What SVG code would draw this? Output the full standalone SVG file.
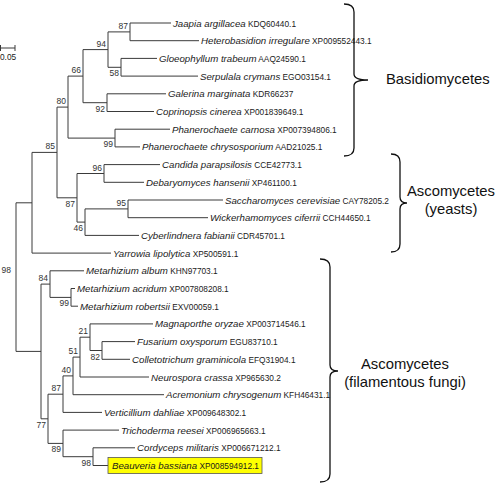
<svg xmlns="http://www.w3.org/2000/svg" width="495" height="484" viewBox="0 0 495 484">
<style>
.sp{font-family:"Liberation Sans",Arial,sans-serif;font-size:9.7px;font-style:italic;fill:#1a1a1a}
.ac{font-family:"Liberation Sans",Arial,sans-serif;font-size:8.3px;font-style:normal;fill:#1a1a1a}
.bs{font-family:"Liberation Sans",Arial,sans-serif;font-size:8.5px;fill:#333;text-anchor:end}
.gl{font-family:"Liberation Sans",Arial,sans-serif;font-size:14.8px;fill:#111}
.br{fill:none;stroke:#3a3a3a;stroke-width:1}
.bc{fill:none;stroke:#111;stroke-width:1.3}
</style>
<rect width="495" height="484" fill="#fff"/>
<g id="scale">
<path class="br" d="M0.5,48 H15 M0.5,45 V51 M15,45 V51"/>
<text class="ac" x="0" y="60">0.05</text>
</g>
<g id="connectors">
<path class="br" d="M32,202.8 H16 V351.4 H41"/>
<path class="br" d="M57,152.4 H32 V253.1 H111"/>
<path class="br" d="M68,107.1 H57 V197.8 H77"/>
<path class="br" d="M83,76.1 H68 V138.1 H115"/>
<path class="br" d="M108,49.6 H83 V102.7 H107"/>
<path class="br" d="M130,31.9 H108 V67.3 H121"/>
<path class="br" d="M171,23 H130 V40.7 H199"/>
<path class="br" d="M157,58.4 H121 V76.1 H198"/>
<path class="br" d="M166,93.8 H107 V111.5 H154"/>
<path class="br" d="M170,129.2 H115 V146.9 H140"/>
<path class="br" d="M104,173.5 H77 V222.1 H85"/>
<path class="br" d="M160,164.6 H104 V182.3 H144"/>
<path class="br" d="M128,208.9 H85 V235.4 H139"/>
<path class="br" d="M223,200 H128 V217.7 H208"/>
<path class="br" d="M50,284.1 H41 V418.8 H48"/>
<path class="br" d="M84,270.8 H50 V297.4 H71"/>
<path class="br" d="M75,288.5 H71 V306.2 H78"/>
<path class="br" d="M63,394.2 H48 V443.4 H63"/>
<path class="br" d="M73,375.9 H63 V412.4 H102"/>
<path class="br" d="M80,357.1 H73 V394.7 H164"/>
<path class="br" d="M90,337.2 H80 V377 H149"/>
<path class="br" d="M153,323.9 H90 V350.5 H102"/>
<path class="br" d="M135,341.6 H102 V359.3 H130"/>
<path class="br" d="M119,430.1 H63 V456.7 H93"/>
<path class="br" d="M135,447.8 H93 V465.5 H108"/>
</g>
<g id="n-root"><text class="bs" x="11" y="273">98</text></g>
<g id="n87a"><text class="bs" x="128" y="29">87</text></g>
<g id="n94"><text class="bs" x="106" y="46.6">94</text></g>
<g id="n58"><text class="bs" x="119" y="76.3">58</text></g>
<g id="n66"><text class="bs" x="81" y="73">66</text></g>
<g id="n92"><text class="bs" x="105" y="111.7">92</text></g>
<g id="n80"><text class="bs" x="66" y="104">80</text></g>
<g id="n99a"><text class="bs" x="113" y="147">99</text></g>
<g id="n85"><text class="bs" x="55" y="149.4">85</text></g>
<g id="n96"><text class="bs" x="102" y="170.5">96</text></g>
<g id="n87b"><text class="bs" x="75" y="206.8">87</text></g>
<g id="n95"><text class="bs" x="126" y="205.9">95</text></g>
<g id="n46"><text class="bs" x="83" y="231">46</text></g>
<g id="n84"><text class="bs" x="48" y="281">84</text></g>
<g id="n99b"><text class="bs" x="69" y="306.4">99</text></g>
<g id="n21"><text class="bs" x="88" y="334">21</text></g>
<g id="n82"><text class="bs" x="100" y="359.5">82</text></g>
<g id="n51"><text class="bs" x="78" y="354">51</text></g>
<g id="n40"><text class="bs" x="71" y="373">40</text></g>
<g id="n87c"><text class="bs" x="61" y="391">87</text></g>
<g id="n77"><text class="bs" x="46" y="428">77</text></g>
<g id="n89"><text class="bs" x="61" y="452.4">89</text></g>
<g id="n98"><text class="bs" x="91" y="465.7">98</text></g>
<g id="leaf-jaapia"><text x="173" y="26.5"><tspan class="sp">Jaapia argillacea</tspan><tspan class="ac"> KDQ60440.1</tspan></text></g>
<g id="leaf-heterobasidion"><text x="201" y="44.2"><tspan class="sp">Heterobasidion irregulare</tspan><tspan class="ac"> XP009552443.1</tspan></text></g>
<g id="leaf-gloeophyllum"><text x="159" y="61.9"><tspan class="sp">Gloeophyllum trabeum</tspan><tspan class="ac"> AAQ24590.1</tspan></text></g>
<g id="leaf-serpulala"><text x="200" y="79.6"><tspan class="sp">Serpulala crymans</tspan><tspan class="ac"> EGO03154.1</tspan></text></g>
<g id="leaf-galerina"><text x="168" y="97.3"><tspan class="sp">Galerina marginata</tspan><tspan class="ac"> KDR66237</tspan></text></g>
<g id="leaf-coprinopsis"><text x="156" y="115"><tspan class="sp">Coprinopsis cinerea</tspan><tspan class="ac">  XP001839649.1</tspan></text></g>
<g id="leaf-pcarnosa"><text x="172" y="132.7"><tspan class="sp">Phanerochaete carnosa</tspan><tspan class="ac"> XP007394806.1</tspan></text></g>
<g id="leaf-pchrysosporium"><text x="142" y="150.4"><tspan class="sp">Phanerochaete chrysosporium</tspan><tspan class="ac"> AAD21025.1</tspan></text></g>
<g id="leaf-candida"><text x="162" y="168.1"><tspan class="sp">Candida parapsilosis</tspan><tspan class="ac"> CCE42773.1</tspan></text></g>
<g id="leaf-debaryomyces"><text x="146" y="185.8"><tspan class="sp">Debaryomyces hansenii</tspan><tspan class="ac"> XP461100.1</tspan></text></g>
<g id="leaf-saccharomyces"><text x="225" y="203.5"><tspan class="sp">Saccharomyces cerevisiae</tspan><tspan class="ac"> CAY78205.2</tspan></text></g>
<g id="leaf-wickerhamomyces"><text x="210" y="221.2"><tspan class="sp">Wickerhamomyces ciferrii</tspan><tspan class="ac"> CCH44650.1</tspan></text></g>
<g id="leaf-cyberlindnera"><text x="141" y="238.9"><tspan class="sp">Cyberlindnera fabianii</tspan><tspan class="ac"> CDR45701.1</tspan></text></g>
<g id="leaf-yarrowia"><text x="113" y="256.6"><tspan class="sp">Yarrowia lipolytica</tspan><tspan class="ac"> XP500591.1</tspan></text></g>
<g id="leaf-malbum"><text x="86" y="274.3"><tspan class="sp">Metarhizium album</tspan><tspan class="ac"> KHN97703.1</tspan></text></g>
<g id="leaf-macridum"><text x="77" y="292"><tspan class="sp">Metarhizium acridum</tspan><tspan class="ac"> XP007808208.1</tspan></text></g>
<g id="leaf-mrobertsii"><text x="80" y="309.7"><tspan class="sp">Metarhizium robertsii</tspan><tspan class="ac"> EXV00059.1</tspan></text></g>
<g id="leaf-magnaporthe"><text x="155" y="327.4"><tspan class="sp">Magnaporthe oryzae</tspan><tspan class="ac"> XP003714546.1</tspan></text></g>
<g id="leaf-fusarium"><text x="137" y="345.1"><tspan class="sp">Fusarium oxysporum</tspan><tspan class="ac"> EGU83710.1</tspan></text></g>
<g id="leaf-colletotrichum"><text x="132" y="362.8"><tspan class="sp">Colletotrichum graminicola</tspan><tspan class="ac"> EFQ31904.1</tspan></text></g>
<g id="leaf-neurospora"><text x="151" y="380.5"><tspan class="sp">Neurospora crassa</tspan><tspan class="ac"> XP965630.2</tspan></text></g>
<g id="leaf-acremonium"><text x="166" y="398.2"><tspan class="sp">Acremonium chrysogenum</tspan><tspan class="ac"> KFH46431.1</tspan></text></g>
<g id="leaf-verticillium"><text x="104" y="415.9"><tspan class="sp">Verticillium dahliae</tspan><tspan class="ac"> XP009648302.1</tspan></text></g>
<g id="leaf-trichoderma"><text x="121" y="433.6"><tspan class="sp">Trichoderma reesei</tspan><tspan class="ac"> XP006965663.1</tspan></text></g>
<g id="leaf-cordyceps"><text x="137" y="451.3"><tspan class="sp">Cordyceps militaris</tspan><tspan class="ac"> XP006671212.1</tspan></text></g>
<g id="leaf-beauveria"><rect x="108" y="457.5" width="154" height="16" fill="#ffff00" stroke="#555" stroke-width="0.8"/><text x="112" y="469"><tspan class="sp">Beauveria bassiana</tspan><tspan class="ac"> XP008594912.1</tspan></text></g>
<g id="group-basidiomycetes">
<path class="bc" d="M344,4 Q354,4 354,12 V74 Q354,80 368,80 Q354,80 354,86 V148 Q354,156 344,156"/>
<text class="gl" x="386" y="84">Basidiomycetes</text>
</g>
<g id="group-yeasts">
<path class="bc" d="M391,154 Q400,154 400,162 V197 Q400,203 407,203 Q400,203 400,209 V244 Q400,252 391,252"/>
<text class="gl" x="451" y="196" text-anchor="middle">Ascomycetes</text>
<text class="gl" x="451" y="214" text-anchor="middle">(yeasts)</text>
</g>
<g id="group-filamentous">
<path class="bc" d="M320,259 Q330,259 330,267 V365 Q330,371 338,371 Q330,371 330,377 V474 Q330,482 320,482"/>
<text class="gl" x="405" y="369" text-anchor="middle">Ascomycetes</text>
<text class="gl" x="405" y="387" text-anchor="middle">(filamentous fungi)</text>
</g>
</svg>
